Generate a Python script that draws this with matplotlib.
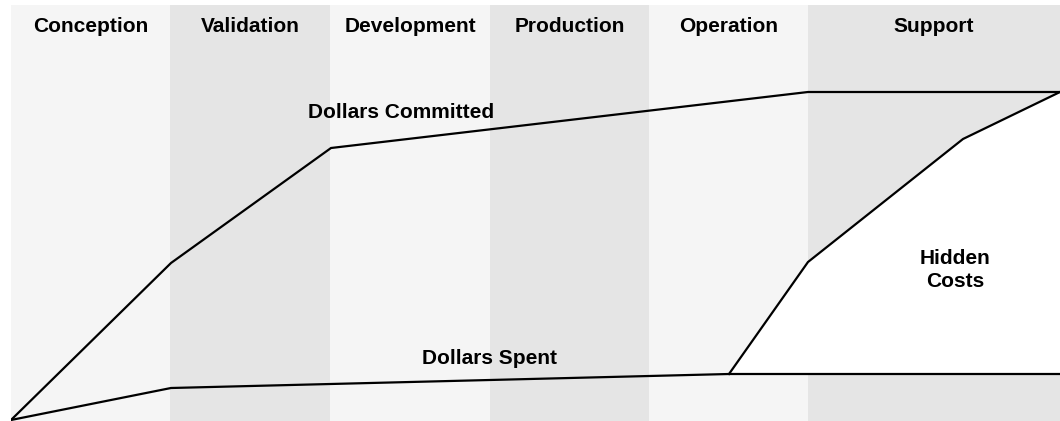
import matplotlib
matplotlib.use("Agg")
import matplotlib.pyplot as plt

plt.rcParams['font.family'] = ['Liberation Sans', 'DejaVu Sans']

stages = ["Conception", "Validation", "Development", "Production", "Operation", "Support"]
stage_edges = [0, 159, 319, 479, 638, 797, 1049]
band_colors = ["#f5f5f5", "#e5e5e5"]

committed_x = [0, 160, 320, 797, 1049]
committed_y = [1, 158, 273, 329, 329]
spent_x = [0, 160, 718, 1049]
spent_y = [1, 33, 47, 47]
hidden_x = [718, 797, 952, 1049]
hidden_y = [47, 159, 282, 329]

FS = 15

fig = plt.figure(figsize=(10.6, 4.21), dpi=100)
ax = fig.add_axes([11/1060, 0, 1049/1060, 416/421])
ax.set_xlim(0, 1049)
ax.set_ylim(0, 416)
ax.axis('off')

for i, name in enumerate(stages):
    ax.axvspan(stage_edges[i], stage_edges[i+1], color=band_colors[i % 2], lw=0, zorder=0)
    ax.text((stage_edges[i] + stage_edges[i+1]) / 2, 395, name, ha='center', va='center',
            fontsize=FS, fontweight='bold', color='black')

# hidden costs white polygon
poly_x = hidden_x + [1049, 718]
poly_y = hidden_y + [47, 47]
ax.fill(poly_x, poly_y, color='white', lw=0, zorder=1)

ax.plot(committed_x, committed_y, color='black', lw=1.6, zorder=3, solid_joinstyle='miter')
ax.plot(spent_x, spent_y, color='black', lw=1.6, zorder=3, solid_joinstyle='miter')
ax.plot(hidden_x, hidden_y, color='black', lw=1.6, zorder=3, solid_joinstyle='miter')

ax.text(390, 308, "Dollars Committed", ha='center', va='center', fontsize=FS, fontweight='bold', color='black')
ax.text(478, 62, "Dollars Spent", ha='center', va='center', fontsize=FS, fontweight='bold', color='black')
ax.text(944, 151, "Hidden\nCosts", ha='center', va='center', fontsize=FS, fontweight='bold',
        color='black', linespacing=1.3)

fig.savefig("out.png", dpi=100)
